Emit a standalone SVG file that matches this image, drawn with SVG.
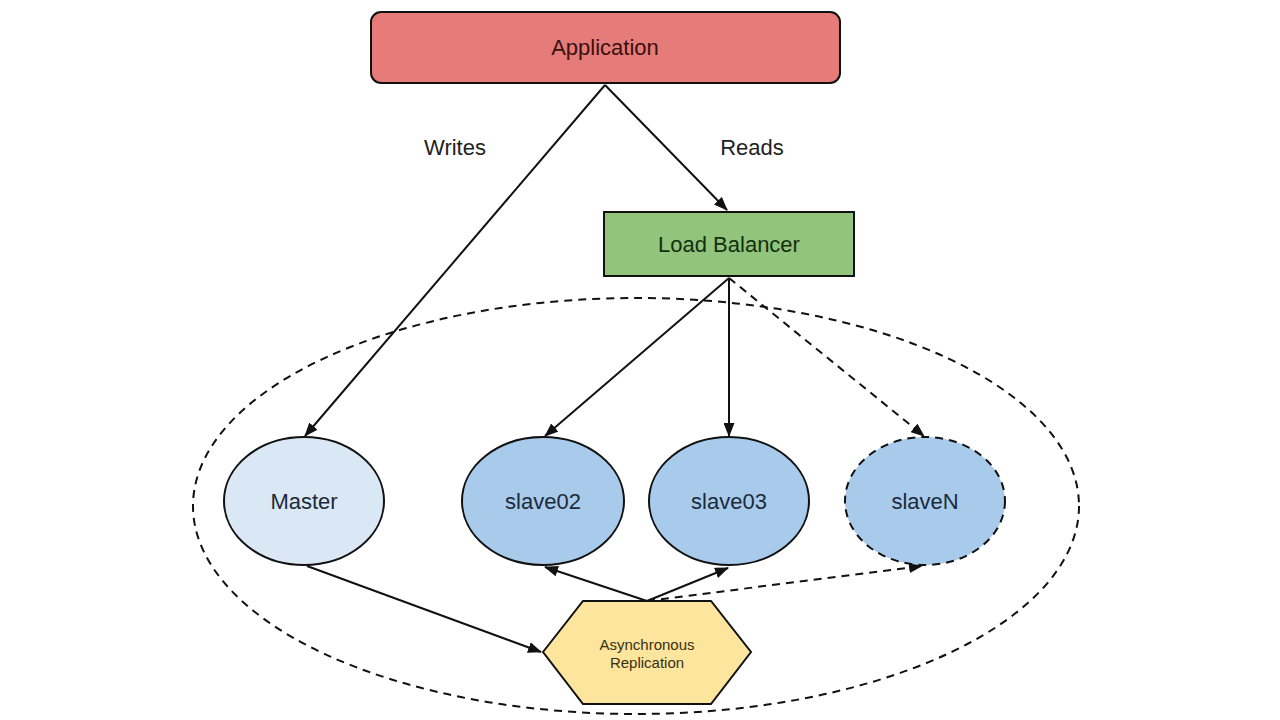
<svg xmlns="http://www.w3.org/2000/svg" width="1280" height="720" viewBox="0 0 1280 720">
<style>
text{font-family:"Liberation Sans",Arial,sans-serif;text-anchor:middle;fill:#222}
.node{stroke:#111;stroke-width:2}
.edge{stroke:#111;stroke-width:2;fill:none}
.dash{stroke-dasharray:8 6}
</style>
<defs>
<marker id="arr" viewBox="0 0 14 11" refX="13" refY="5.5" markerWidth="14" markerHeight="11" markerUnits="userSpaceOnUse" orient="auto">
<path d="M0,0 L14,5.5 L0,11 z" fill="#111"/>
</marker>
</defs>
<rect width="1280" height="720" fill="#fff"/>
<ellipse id="cluster" cx="636" cy="506" rx="443" ry="208" class="edge dash"/>
<g id="connectors">
<line class="edge" x1="605" y1="85" x2="305" y2="436" marker-end="url(#arr)"/>
<line class="edge" x1="605" y1="85" x2="727" y2="210" marker-end="url(#arr)"/>
<line class="edge" x1="729" y1="278" x2="545" y2="436" marker-end="url(#arr)"/>
<line class="edge" x1="729" y1="278" x2="729" y2="436" marker-end="url(#arr)"/>
<line class="edge dash" x1="729" y1="278" x2="924" y2="436" marker-end="url(#arr)"/>
<line class="edge" x1="307" y1="566" x2="541" y2="652" marker-end="url(#arr)"/>
<line class="edge" x1="647" y1="601" x2="545" y2="567" marker-end="url(#arr)"/>
<line class="edge" x1="647" y1="601" x2="728" y2="568" marker-end="url(#arr)"/>
<line class="edge dash" x1="647" y1="601" x2="922" y2="566" marker-end="url(#arr)"/>
</g>
<text x="455" y="155" font-size="22">Writes</text>
<text x="752" y="155" font-size="22">Reads</text>
<g id="application">
<rect class="node" x="371" y="12" width="469" height="71" rx="10" fill="#e67c79"/>
<text x="605" y="55" font-size="22" style="fill:#3a1010">Application</text>
</g>
<g id="loadbalancer">
<rect class="node" x="604" y="212" width="250" height="64" fill="#93c47d"/>
<text x="729" y="252" font-size="22" style="fill:#12300e">Load Balancer</text>
</g>
<g id="master">
<ellipse class="node" cx="304" cy="501" rx="80" ry="64" fill="#dae7f5"/>
<text x="304" y="509" font-size="22" style="fill:#1c2a3a">Master</text>
</g>
<g id="slave02">
<ellipse class="node" cx="543" cy="501" rx="81" ry="64" fill="#a9cbeb"/>
<text x="543" y="509" font-size="22" style="fill:#1c2a3a">slave02</text>
</g>
<g id="slave03">
<ellipse class="node" cx="729" cy="501" rx="80" ry="64" fill="#a9cbeb"/>
<text x="729" y="509" font-size="22" style="fill:#1c2a3a">slave03</text>
</g>
<g id="slaveN">
<ellipse class="node dash" cx="925" cy="501" rx="80" ry="64" fill="#a9cbeb"/>
<text x="925" y="509" font-size="22" style="fill:#1c2a3a">slaveN</text>
</g>
<g id="replication">
<polygon class="node" points="543,652 583,601 711,601 751,652 711,704 583,704" fill="#fde59e"/>
<text x="647" y="650" font-size="15" style="fill:#3a3010">Asynchronous</text>
<text x="647" y="668" font-size="15" style="fill:#3a3010">Replication</text>
</g>
</svg>
